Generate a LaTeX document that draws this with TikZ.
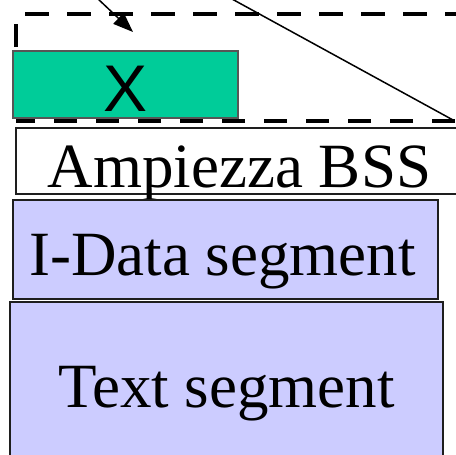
\documentclass[tikz,border=0pt]{standalone}
\usepackage{fontspec}
\setmainfont{Liberation Serif}
\newfontfamily\arialfont{Liberation Sans}
\usetikzlibrary{arrows.meta}
\definecolor{xgreen}{RGB}{0,204,153}
\definecolor{seglav}{RGB}{204,204,255}
\definecolor{boxline}{RGB}{30,30,30}
\begin{document}
\begin{tikzpicture}[x=1pt,y=-1pt,
  segbox/.style={draw=boxline, line width=1.4pt, inner sep=0pt, anchor=center,
    font=\fontsize{63}{70}\selectfont, text depth=0pt},
  bigdash/.style={line width=4pt, dash pattern=on 23.5pt off 18.5pt},
  thinline/.style={line width=1.5pt, black}]
\useasboundingbox (0,0) rectangle (456,455);
% dashed region
\draw[bigdash] (16,47) -- (16,14) -- (457.5,14) -- (457.5,121);
\draw[bigdash, dash phase=39.5pt] (457.5,121) -- (16,121);
% boxes
\node[segbox, fill=xgreen, draw=boxline!75, minimum width=225pt, minimum height=67pt,
  text height=53pt, font=\arialfont\fontsize{66}{70}\selectfont] (x) at (125.5,84.5) {X};
\node[segbox, fill=white, minimum width=441pt, minimum height=66pt, text height=52pt]
  (bss) at (236.5,161) {\hspace*{6pt}Ampiezza BSS};
\node[segbox, fill=seglav, minimum width=425pt, minimum height=99pt, text height=51pt]
  (idata) at (225.5,249.5) {I-Data segment\hspace*{6pt}};
\node[segbox, fill=seglav, minimum width=433pt, minimum height=158pt, text height=52pt]
  (text) at (226.5,381) {Text segment};
% connectors
\coordinate (a0) at (97,-2);
\coordinate (a1) at (133,32);
\coordinate (b0) at (232,-1);
\coordinate (b1) at (453,120);
\draw[thinline, -{Triangle[length=20pt,width=15pt]}] (a0) -- (a1);
\draw[thinline] (b0) -- (b1);
\end{tikzpicture}
\end{document}
